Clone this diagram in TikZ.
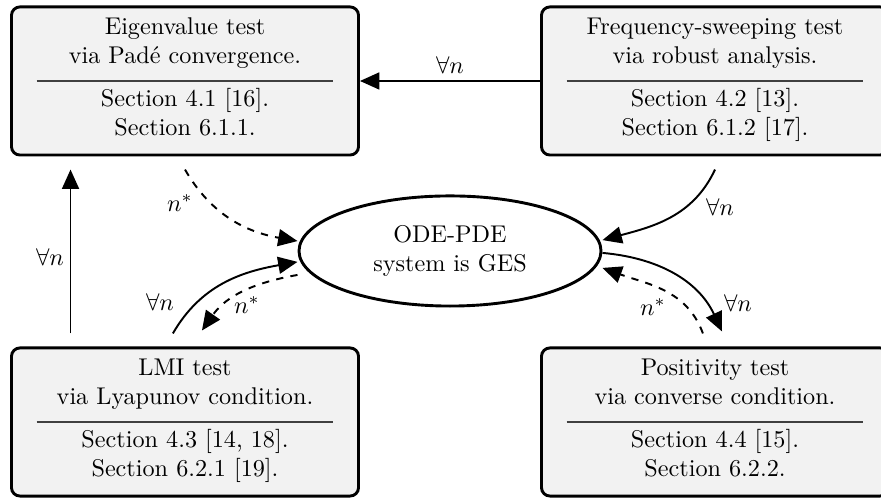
\documentclass[tikz,border=0pt]{standalone}
\usetikzlibrary{arrows.meta,shapes.geometric}
\begin{document}
\begin{tikzpicture}[x=0.4132pt,y=0.4132pt,
  box/.style={draw=black, line width=1.2pt, rounded corners=3.5pt, fill=black!5,
    minimum width=143.4pt, minimum height=61.2pt, inner sep=0pt},
  ges/.style={draw=black, line width=1.2pt, ellipse, inner sep=0pt,
    minimum width=124.8pt, minimum height=45.5pt, align=center},
  txt/.style={inner sep=0pt, align=center},
  sepline/.style={draw=black!75, line width=0.5pt},
  arr/.style={line width=0.8pt, -{Triangle[length=8pt,width=7pt]}},
  darr/.style={arr, dashed},
  lbl/.style={inner sep=0pt}
]
\useasboundingbox (0,0) rectangle (881,500);
\clip (0,0) rectangle (881,500);

% boxes
\node[box] (tl) at (185,419) {};
\node[box] (tr) at (715,419) {};
\node[box] (bl) at (185,78) {};
\node[box] (br) at (715,78) {};
\node[ges] (ell) at (450,249) {ODE-PDE\\system is GES};

% box contents
\node[txt, anchor=south] (tlu) at ([yshift=3.4pt]tl.center) {Eigenvalue test\\via Padé convergence.\strut};
\node[txt, anchor=north] (tll) at ([yshift=-2.1pt]tl.center) {\strut Section 4.1 [16].\\Section 6.1.1.};
\draw[sepline] ([xshift=11pt]tl.west) -- ([xshift=-11pt]tl.east);

\node[txt, anchor=south] (tru) at ([yshift=3.4pt]tr.center) {Frequency-sweeping test\\via robust analysis.\strut};
\node[txt, anchor=north] (trl) at ([yshift=-2.1pt]tr.center) {\strut Section 4.2 [13].\\Section 6.1.2 [17].};
\draw[sepline] ([xshift=11pt]tr.west) -- ([xshift=-11pt]tr.east);

\node[txt, anchor=south] (blu) at ([yshift=3.4pt]bl.center) {LMI test\\via Lyapunov condition.\strut};
\node[txt, anchor=north] (bll) at ([yshift=-2.1pt]bl.center) {\strut Section 4.3 [14, 18].\\Section 6.2.1 [19].};
\draw[sepline] ([xshift=11pt]bl.west) -- ([xshift=-11pt]bl.east);

\node[txt, anchor=south] (bru) at ([yshift=3.4pt]br.center) {Positivity test\\via converse condition.\strut};
\node[txt, anchor=north] (brl) at ([yshift=-2.1pt]br.center) {\strut Section 4.4 [15].\\Section 6.2.2.};
\draw[sepline] ([xshift=11pt]br.west) -- ([xshift=-11pt]br.east);

% connectors
\draw[arr] (tr.west) -- (tl.east);
\draw[arr] ([xshift=25pt,yshift=5.4pt]bl.north west) -- ([xshift=25pt,yshift=-5.4pt]tl.south west);
\draw[darr] ([yshift=-5.4pt]tl.south) to[out=-60, in=170] ([yshift=4.1pt]ell.west);
\draw[arr] ([yshift=-5.4pt]tr.south) to[out=-115, in=15] ([yshift=4.5pt]ell.east);
\draw[arr] ([xshift=-5pt,yshift=5.4pt]bl.north) to[out=60, in=190] ([yshift=-4.5pt]ell.west);
\draw[darr] ([yshift=-9.9pt]ell.west) to[out=190, in=55] ([xshift=7pt,yshift=6.6pt]bl.north);
\draw[arr] ([yshift=-0.8pt]ell.east) to[out=-5, in=115] ([xshift=2.9pt,yshift=6.2pt]br.north);
\draw[darr] ([xshift=-5pt,yshift=5.4pt]br.north) to[out=110, in=-20] ([yshift=-7pt]ell.east);

% labels
\node[lbl] (l1) at (450,435) {$\forall n$};
\node[lbl] (l2) at (50,243) {$\forall n$};
\node[lbl] (l3) at (180,297) {$n^*$};
\node[lbl] (l4) at (720,293) {$\forall n$};
\node[lbl] (l5) at (160,198) {$\forall n$};
\node[lbl] (l6) at (247,195) {$n^*$};
\node[lbl] (l7) at (653,193) {$n^*$};
\node[lbl] (l8) at (738,197) {$\forall n$};
\end{tikzpicture}
\end{document}
